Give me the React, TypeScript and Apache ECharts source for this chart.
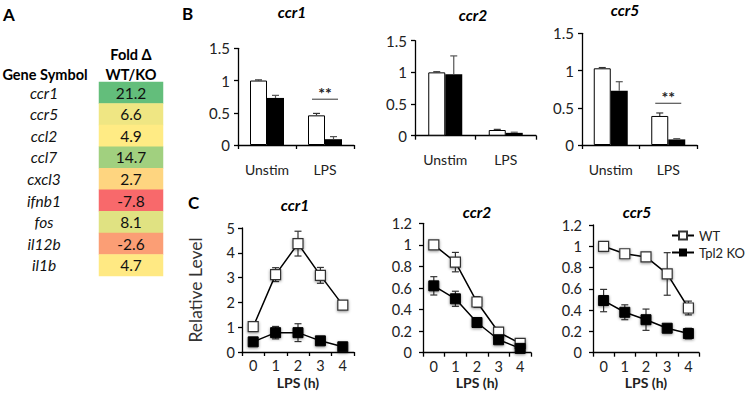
import React, { useEffect, useRef } from 'react';
import * as echarts from 'echarts';

// ---------- data ----------
const genes = ['ccr1', 'ccr5', 'ccl2', 'ccl7', 'cxcl3', 'ifnb1', 'fos', 'il12b', 'il1b'];
const foldChange = [21.2, 6.6, 4.9, 14.7, 2.7, -7.8, 8.1, -2.6, 4.7];

const barCategories = ['Unstim', 'LPS'];
const barTitles = ['ccr1', 'ccr2', 'ccr5'];
const barWT = [[1.0, 0.46], [1.0, 0.09], [1.03, 0.39]];
const barWTErr = [[0.01, 0.03], [0.01, 0.01], [0.01, 0.04]];
const barKO = [[0.73, 0.09], [0.97, 0.045], [0.73, 0.075]];
const barKOErr = [[0.04, 0.04], [0.29, 0.01], [0.12, 0.01]];
const sigLevel: (number | null)[] = [0.71, null, 0.56];
const sigText = '**';

const hours = ['0', '1', '2', '3', '4'];
const lineTitles = ['ccr1', 'ccr2', 'ccr5'];
const lineWT = [[1.02, 3.12, 4.37, 3.09, 1.89], [1.0, 0.84, 0.47, 0.19, 0.087], [1.0, 0.93, 0.9, 0.74, 0.42]];
const lineWTErr = [[0.03, 0.28, 0.5, 0.32, 0.05], [0.01, 0.09, 0.05, 0.02, 0.01], [0.01, 0.02, 0.03, 0.2, 0.065]];
const lineKO = [[0.41, 0.78, 0.78, 0.45, 0.21], [0.62, 0.5, 0.28, 0.12, 0.04], [0.49, 0.38, 0.31, 0.23, 0.18]];
const lineKOErr = [[0.03, 0.25, 0.36, 0.12, 0.03], [0.085, 0.07, 0.02, 0.02, 0.01], [0.105, 0.07, 0.1, 0.02, 0.05]];
const lineYMax = [5, 1.2, 1.2];
const lineYInterval = [1, 0.2, 0.2];

// ---------- style ----------
const FONT = 'Lato';
const barGrids = [
  { left: 238, top: 48.3, width: 116, height: 96.7 },
  { left: 415, top: 40.7, width: 121, height: 95 },
  { left: 582, top: 33.3, width: 115, height: 111.7 },
];
const lineGrids = [
  { left: 242, top: 228, width: 112, height: 124 },
  { left: 423, top: 223.3, width: 108, height: 129.4 },
  { left: 593, top: 225, width: 106, height: 127.7 },
];
const barTitlePos = [[292, 12], [473, 15], [625, 10]];
const lineTitlePos = [[295, 205], [477, 212], [637, 212]];
const lineYLabelMargin = [7, 11, 11];
const BAR_W = 17;

const axisLine = { show: true, lineStyle: { color: '#000', width: 1.3 } };
const axisTick = { show: true, length: 4, lineStyle: { color: '#000', width: 1.3 } };
const labelStyle = { color: '#222', fontSize: 14, fontFamily: FONT };

function hexToRgb(h: string) {
  return [parseInt(h.slice(1, 3), 16), parseInt(h.slice(3, 5), 16), parseInt(h.slice(5, 7), 16)];
}
function mix(a: number[], b: number[], t: number) {
  return 'rgb(' + a.map((x, i) => Math.round(x + (b[i] - x) * t)).join(',') + ')';
}
const LOW = hexToRgb('#F8696B');
const MID = hexToRgb('#FFEB84');
const HIGH = hexToRgb('#63BE7B');

function text(x: number, y: number, t: string, size: number, opts: any = {}) {
  return {
    type: 'text',
    x,
    y,
    style: {
      text: t,
      fontSize: size,
      fontFamily: FONT,
      fontWeight: opts.weight || 'bold',
      fontStyle: opts.italic ? 'italic' : 'normal',
      fill: opts.fill || '#000',
      align: opts.align || 'center',
      verticalAlign: 'middle',
      textAlign: opts.align || 'center',
      textVerticalAlign: 'middle',
    },
  };
}

export default function App() {
  const ref = useRef<HTMLDivElement>(null);
  useEffect(() => {
    if (!ref.current) return;
    const chart = echarts.init(ref.current, null, { renderer: 'svg' });

    const vMin = Math.min(...foldChange);
    const vMax = Math.max(...foldChange);
    const sorted = [...foldChange].sort((a, b) => a - b);
    const vMid = sorted[Math.floor(sorted.length / 2)];
    const excelColor = (v: number) =>
      v <= vMid ? mix(LOW, MID, (v - vMin) / (vMid - vMin)) : mix(MID, HIGH, (v - vMid) / (vMax - vMid));
    const stops: string[] = [];
    const N = 80;
    for (let k = 0; k <= N; k++) stops.push(excelColor(vMin + ((vMax - vMin) * k) / N));

    const grid: any[] = [{ left: 99, top: 82, width: 64, height: 194 }, ...barGrids, ...lineGrids];
    const xAxis: any[] = [
      { type: 'category', gridIndex: 0, data: ['fold'], show: false },
    ];
    const yAxis: any[] = [
      {
        type: 'category',
        gridIndex: 0,
        data: genes,
        inverse: true,
        axisLine: { show: false },
        axisTick: { show: false },
        axisLabel: { color: '#111', fontSize: 15.5, fontFamily: FONT, fontStyle: 'italic', align: 'center', margin: 55 },
      },
    ];
    const series: any[] = [
      {
        type: 'heatmap',
        xAxisIndex: 0,
        yAxisIndex: 0,
        data: foldChange.map((v, i) => [0, i, v]),
        label: { show: true, color: '#111', fontSize: 15.5, fontFamily: FONT },
        emphasis: { disabled: true },
      },
    ];

    const errBar = (offset: number, both: boolean, color: string, cap: number) => (params: any, api: any) => {
      const x = api.value(0);
      const y = api.value(1);
      const e = api.value(2);
      const c = api.coord([x, y]);
      const top = api.coord([x, y + e]);
      const bot = api.coord([x, both ? y - e : y]);
      const cx = c[0] + offset;
      const st = { stroke: color, lineWidth: 1.2 };
      const children: any[] = [
        { type: 'line', shape: { x1: cx, y1: bot[1], x2: cx, y2: top[1] }, style: st },
        { type: 'line', shape: { x1: cx - cap, y1: top[1], x2: cx + cap, y2: top[1] }, style: st },
      ];
      if (both) children.push({ type: 'line', shape: { x1: cx - cap, y1: bot[1], x2: cx + cap, y2: bot[1] }, style: st });
      return { type: 'group', children };
    };

    // Panel B bar charts
    barGrids.forEach((_, i) => {
      const ax = i + 1;
      xAxis.push({
        type: 'category',
        gridIndex: ax,
        data: barCategories,
        axisLine,
        axisTick,
        axisLabel: { ...labelStyle, margin: 17 },
      });
      yAxis.push({
        type: 'value',
        gridIndex: ax,
        min: 0,
        max: 1.5,
        interval: 0.5,
        splitLine: { show: false },
        axisLine,
        axisTick,
        axisLabel: { ...labelStyle, fontSize: 15, margin: 8 },
      });
      series.push(
        {
          type: 'bar',
          name: 'WT bar',
          xAxisIndex: ax,
          yAxisIndex: ax,
          data: barWT[i],
          barWidth: BAR_W,
          barGap: '0%',
          itemStyle: { color: '#fff', borderColor: '#000', borderWidth: 1 },
          emphasis: { disabled: true },
        },
        {
          type: 'bar',
          name: 'KO bar',
          xAxisIndex: ax,
          yAxisIndex: ax,
          data: barKO[i],
          barWidth: BAR_W,
          barGap: '0%',
          itemStyle: { color: '#000' },
          emphasis: { disabled: true },
        },
        {
          type: 'custom',
          name: 'WT err',
          xAxisIndex: ax,
          yAxisIndex: ax,
          data: barWT[i].map((v, k) => [k, v, barWTErr[i][k]]),
          encode: { x: 0, y: 1 },
          renderItem: errBar(-BAR_W / 2, false, '#333', 3.5),
          clip: false,
          z: 5,
        },
        {
          type: 'custom',
          name: 'KO err',
          xAxisIndex: ax,
          yAxisIndex: ax,
          data: barKO[i].map((v, k) => [k, v, barKOErr[i][k]]),
          encode: { x: 0, y: 1 },
          renderItem: errBar(BAR_W / 2, false, '#555', 3.5),
          clip: false,
          z: 5,
        }
      );
      const s = sigLevel[i];
      if (s !== null) {
        series.push({
          type: 'custom',
          name: 'sig',
          xAxisIndex: ax,
          yAxisIndex: ax,
          data: [[1, s]],
          encode: { x: 0, y: 1 },
          clip: false,
          z: 6,
          renderItem: (params: any, api: any) => {
            const c = api.coord([api.value(0), api.value(1)]);
            return {
              type: 'group',
              children: [
                { type: 'line', shape: { x1: c[0] - 13, y1: c[1], x2: c[0] + 13, y2: c[1] }, style: { stroke: '#555', lineWidth: 1.2 } },
                {
                  type: 'text',
                  style: {
                    text: sigText,
                    x: c[0],
                    y: c[1] + 1,
                    fontSize: 16,
                    fontFamily: FONT,
                    fontWeight: 'bold',
                    fill: '#222',
                    align: 'center',
                    verticalAlign: 'bottom',
                    textAlign: 'center',
                    textVerticalAlign: 'bottom',
                  },
                },
              ],
            };
          },
        });
      }
    });

    // Panel C line charts
    lineGrids.forEach((_, i) => {
      const ax = i + 4;
      xAxis.push({
        type: 'category',
        gridIndex: ax,
        data: hours,
        axisLine,
        axisTick,
        axisLabel: { ...labelStyle, fontSize: 14.5, margin: 6 },
        name: 'LPS (h)',
        nameLocation: 'middle',
        nameGap: 23,
        nameTextStyle: { fontFamily: FONT, fontWeight: 'bold', fontSize: 14, color: '#222' },
      });
      yAxis.push({
        type: 'value',
        gridIndex: ax,
        min: 0,
        max: lineYMax[i],
        interval: lineYInterval[i],
        splitLine: { show: false },
        axisLine,
        axisTick,
        axisLabel: { ...labelStyle, fontSize: 14.5, margin: lineYLabelMargin[i] },
        ...(i === 0
          ? {
              name: 'Relative Level',
              nameLocation: 'middle',
              nameGap: 38,
              nameTextStyle: { fontFamily: FONT, fontSize: 17.5, color: '#333' },
            }
          : {}),
      });
      series.push(
        {
          type: 'custom',
          name: 'WT line err',
          xAxisIndex: ax,
          yAxisIndex: ax,
          data: lineWT[i].map((v, k) => [k, v, lineWTErr[i][k]]),
          encode: { x: 0, y: 1 },
          renderItem: errBar(0, true, '#333', 3.5),
          clip: false,
          z: 1,
        },
        {
          type: 'custom',
          name: 'KO line err',
          xAxisIndex: ax,
          yAxisIndex: ax,
          data: lineKO[i].map((v, k) => [k, v, lineKOErr[i][k]]),
          encode: { x: 0, y: 1 },
          renderItem: errBar(0, true, '#333', 3.5),
          clip: false,
          z: 1,
        },
        {
          type: 'line',
          name: 'WT',
          xAxisIndex: ax,
          yAxisIndex: ax,
          data: lineWT[i],
          symbol: 'rect',
          symbolSize: 10,
          lineStyle: { color: '#000', width: 1.5 },
          itemStyle: {
            color: '#fff',
            borderColor: '#333',
            borderWidth: 1.2,
            shadowBlur: 3,
            shadowColor: 'rgba(0,0,0,0.45)',
            shadowOffsetY: 1,
          },
          emphasis: { disabled: true },
          z: 3,
        },
        {
          type: 'line',
          name: 'Tpl2 KO',
          xAxisIndex: ax,
          yAxisIndex: ax,
          data: lineKO[i],
          symbol: 'rect',
          symbolSize: 10,
          lineStyle: { color: '#000', width: 1.5 },
          itemStyle: {
            color: '#000',
            borderColor: '#000',
            shadowBlur: 3,
            shadowColor: 'rgba(0,0,0,0.45)',
            shadowOffsetY: 1,
          },
          emphasis: { disabled: true },
          z: 3,
        }
      );
    });

    const graphic: any[] = [
      text(3, 14, 'A', 17, { align: 'left' }),
      text(182, 13, 'B', 17, { align: 'left' }),
      text(188, 202, 'C', 17, { align: 'left' }),
      text(45, 74, 'Gene Symbol', 14.5),
      text(131, 54, 'Fold Δ', 14.5),
      text(131, 74, 'WT/KO', 14.5),
      ...barTitles.map((t, i) => text(barTitlePos[i][0], barTitlePos[i][1], t, 15.5, { italic: true })),
      ...lineTitles.map((t, i) => text(lineTitlePos[i][0], lineTitlePos[i][1], t, 15.5, { italic: true })),
    ];

    chart.setOption({
      animation: false,
      backgroundColor: '#fff',
      textStyle: { fontFamily: FONT },
      grid,
      xAxis,
      yAxis,
      series,
      graphic,
      visualMap: {
        type: 'continuous',
        show: false,
        seriesIndex: 0,
        dimension: 2,
        min: vMin,
        max: vMax,
        inRange: { color: stops },
      },
      legend: {
        data: ['WT', 'Tpl2 KO'],
        orient: 'vertical',
        left: 671,
        top: 229,
        itemWidth: 22,
        itemHeight: 10,
        itemGap: 4,
        padding: 0,
        textStyle: { fontFamily: FONT, fontSize: 13, color: '#222' },
        selectedMode: false,
      },
    });
    return () => chart.dispose();
  }, []);
  return (
    <div
      ref={ref}
      style={{ position: 'fixed', left: 0, top: 0, width: 745, height: 403, background: '#fff' }}
    />
  );
}
